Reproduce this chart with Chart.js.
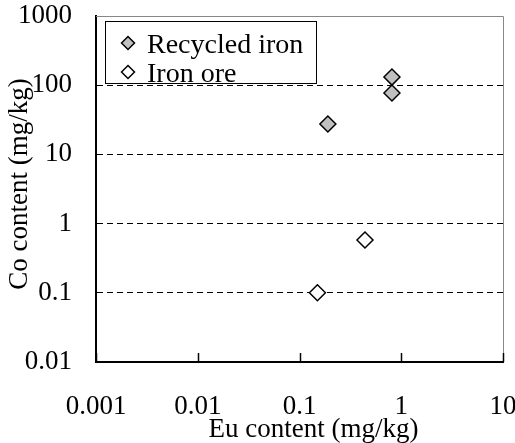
<!DOCTYPE html>
<html>
<head>
<meta charset="utf-8">
<script src="https://cdn.jsdelivr.net/npm/chart.js@4/dist/chart.umd.min.js"></script>
<style>
  html, body { margin: 0; padding: 0; background: #fff; }
  #wrap { width: 515px; height: 443px; }
</style>
</head>
<body>
<div id="wrap"><canvas id="chart" width="515" height="443"></canvas></div>
<script>
// data
const seriesNames = ['Recycled iron', 'Iron ore'];
const recycledEu = [0.81, 0.81, 0.19];
const recycledCo = [131, 77, 27.5];
const oreEu = [0.44, 0.15];
const oreCo = [0.58, 0.1];
const xTicks = [0.001, 0.01, 0.1, 1, 10];
const yTicks = [0.01, 0.1, 1, 10, 100, 1000];
const xTitle = 'Eu content (mg/kg)';
const yTitle = 'Co content (mg/kg)';

const serif = 'Liberation Serif, Times New Roman, serif';

function toPoints(xs, ys) {
    return xs.map((x, i) => ({ x: x, y: ys[i] }));
}

function diamond(ctx, x, y, r, fill) {
    ctx.beginPath();
    ctx.moveTo(x - r, y);
    ctx.lineTo(x, y - r);
    ctx.lineTo(x + r, y);
    ctx.lineTo(x, y + r);
    ctx.closePath();
    ctx.fillStyle = fill;
    ctx.fill();
    ctx.lineWidth = 1.5;
    ctx.strokeStyle = '#000';
    ctx.stroke();
}

// no automatic room for overhanging labels, the layout padding does it
function noPad(s) {
    s.paddingLeft = 0;
    s.paddingRight = 0;
    s.paddingTop = 0;
    s.paddingBottom = 0;
}

// frame: grey top/right, inward ticks on the x axis
const framePlugin = {
    id: 'frame',
    beforeDatasetsDraw(chart) {
        const { ctx, chartArea: a, scales } = chart;
        ctx.save();
        ctx.strokeStyle = '#888';
        ctx.lineWidth = 1;
        ctx.beginPath();
        ctx.moveTo(a.left, a.top + 0.5);
        ctx.lineTo(a.right + 0.5, a.top + 0.5);
        ctx.lineTo(a.right + 0.5, a.bottom);
        ctx.stroke();

        ctx.strokeStyle = '#000';
        ctx.lineWidth = 1.5;
        xTicks.forEach(v => {
            const px = Math.round(scales.x.getPixelForValue(v)) + 0.5;
            ctx.beginPath();
            ctx.moveTo(px, a.bottom);
            ctx.lineTo(px, a.bottom - 9);
            ctx.stroke();
        });
        ctx.restore();
    }
};

// axis titles sit a little off-centre in the original, so place them by hand
const titlePlugin = {
    id: 'axisTitles',
    afterDraw(chart) {
        const { ctx, chartArea: a } = chart;
        ctx.save();
        ctx.fillStyle = '#000';
        ctx.font = '27px ' + serif;
        ctx.textAlign = 'center';
        ctx.textBaseline = 'alphabetic';
        ctx.fillText(xTitle, (a.left + a.right) / 2 + 14, a.bottom + 75);

        ctx.translate(a.left - 69, (a.top + a.bottom) / 2 - 5);
        ctx.rotate(-Math.PI / 2);
        ctx.fillText(yTitle, 0, 0);
        ctx.restore();
    }
};

// boxed legend inside the plot area
const legendPlugin = {
    id: 'boxLegend',
    afterDraw(chart) {
        const { ctx, chartArea: a } = chart;
        const left = a.left + 9, top = a.top + 5, w = 211, h = 62;
        ctx.save();
        ctx.fillStyle = '#fff';
        ctx.fillRect(left, top, w, h);
        ctx.strokeStyle = '#000';
        ctx.lineWidth = 1;
        ctx.strokeRect(left + 0.5, top + 0.5, w, h);

        const rows = [top + 22, top + 51];
        chart.data.datasets.forEach((ds, i) => {
            diamond(ctx, left + 23, rows[i], 6.5, ds.backgroundColor);
            ctx.fillStyle = '#000';
            ctx.font = '28px ' + serif;
            ctx.textBaseline = 'alphabetic';
            ctx.textAlign = 'left';
            ctx.fillText(ds.label, left + 42, rows[i] + 10);
        });
        ctx.restore();
    }
};

new Chart(document.getElementById('chart'), {
    type: 'scatter',
    data: {
        datasets: [
            {
                label: seriesNames[0],
                data: toPoints(recycledEu, recycledCo),
                pointStyle: 'rectRot',
                pointRadius: 8,
                pointHoverRadius: 8,
                backgroundColor: '#c0c0c0',
                borderColor: '#000',
                borderWidth: 1.5
            },
            {
                label: seriesNames[1],
                data: toPoints(oreEu, oreCo),
                pointStyle: 'rectRot',
                pointRadius: 8,
                pointHoverRadius: 8,
                backgroundColor: '#fff',
                borderColor: '#000',
                borderWidth: 1.5
            }
        ]
    },
    options: {
        responsive: false,
        animation: false,
        devicePixelRatio: 1,
        layout: { padding: { top: 16, right: 12, left: 0, bottom: 0 } },
        plugins: {
            legend: { display: false },
            tooltip: { enabled: false }
        },
        scales: {
            x: {
                type: 'logarithmic',
                min: 0.001,
                max: 10,
                afterBuildTicks: s => { s.ticks = xTicks.map(v => ({ value: v })); },
                afterFit: s => { s.height = 81; noPad(s); },
                ticks: {
                    color: '#000',
                    padding: 31,
                    maxRotation: 0,
                    font: { family: serif, size: 27, lineHeight: 1 },
                    callback: v => String(v)
                },
                grid: { display: false, drawTicks: false },
                border: { display: true, color: '#000', width: 2 },
                title: { display: false }
            },
            y: {
                type: 'logarithmic',
                min: 0.01,
                max: 1000,
                afterBuildTicks: s => { s.ticks = yTicks.map(v => ({ value: v })); },
                afterFit: s => { s.width = 96; noPad(s); },
                ticks: {
                    color: '#000',
                    padding: 24,
                    font: { family: serif, size: 27, lineHeight: 1 },
                    callback: v => String(v)
                },
                grid: {
                    drawTicks: false,
                    color: c => (c.tick && (c.tick.value === 0.01 || c.tick.value === 1000)) ? 'rgba(0,0,0,0)' : '#000',
                    lineWidth: 1
                },
                border: { display: true, color: '#000', width: 2, dash: [6, 4] },
                title: { display: false }
            }
        }
    },
    plugins: [framePlugin, legendPlugin, titlePlugin]
});
</script>
</body>
</html>
